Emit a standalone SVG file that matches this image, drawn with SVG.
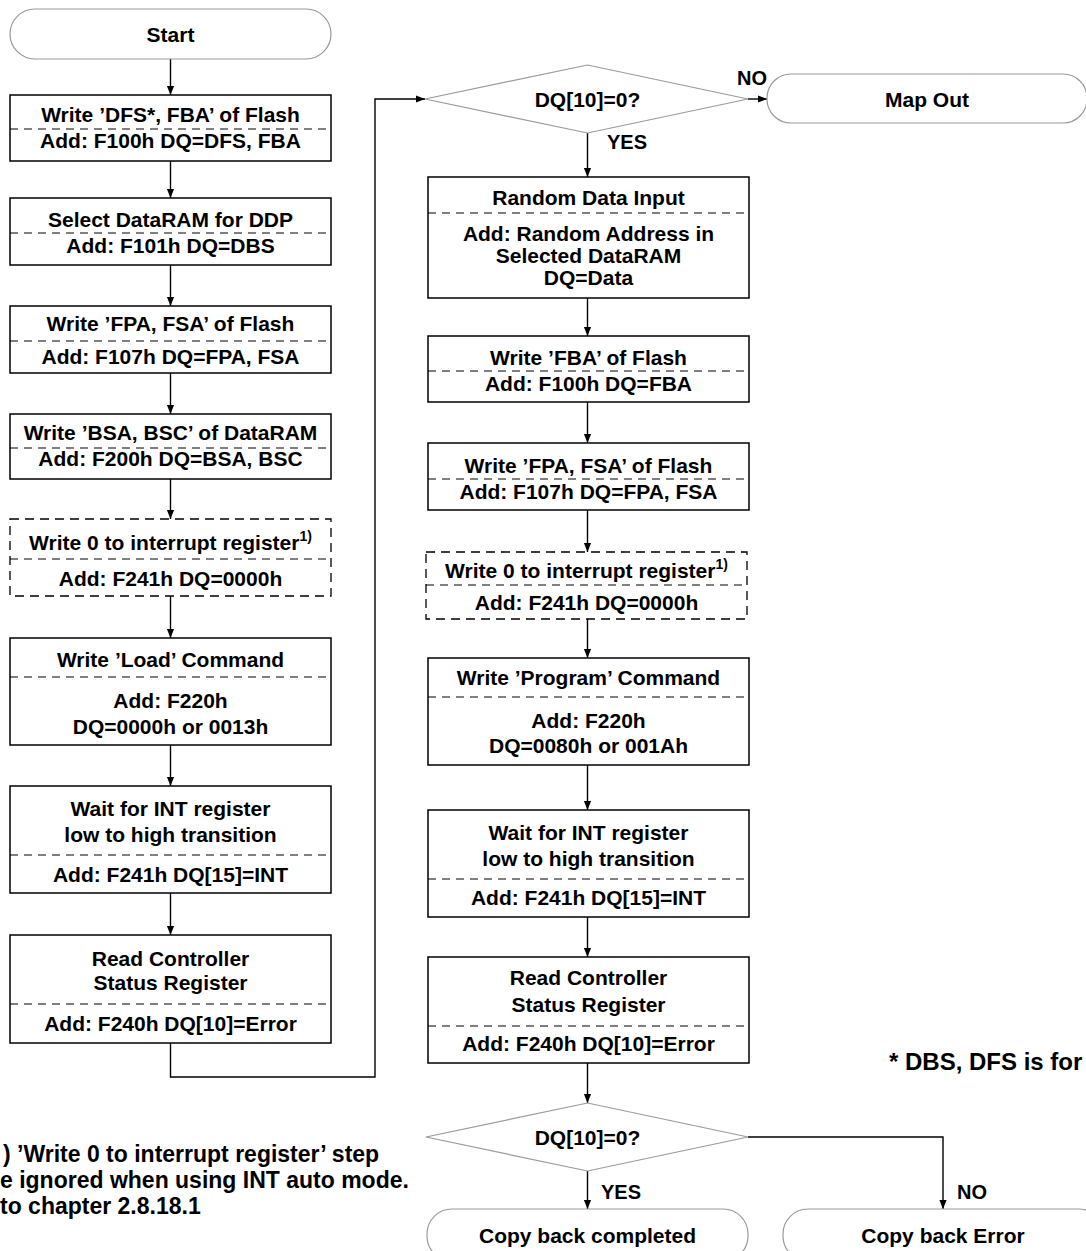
<svg xmlns="http://www.w3.org/2000/svg" width="1086" height="1251" viewBox="0 0 1086 1251">
<style>
text{font-family:"Liberation Sans",Arial,sans-serif;font-weight:bold;fill:#000;}
.t{font-size:21px;text-anchor:middle;}
.lbl{font-size:20px;text-anchor:middle;}
.note{font-size:23px;}
.note2{font-size:24px;}
.box{fill:#fff;stroke:#000;stroke-width:1.5;}
.dbox{fill:#fff;stroke:#000;stroke-width:1.3;stroke-dasharray:9,6;}
.sep{stroke:#000;stroke-width:1;stroke-dasharray:8,6;fill:none;}
.term{fill:#fff;stroke:#9a9a9a;stroke-width:1.2;}
.dia{fill:#fff;stroke:#9a9a9a;stroke-width:1.2;}
.con{fill:none;stroke:#000;stroke-width:1.4;marker-end:url(#ah);}
.sup{font-size:14px;}
</style>
<defs>
<marker id="ah" viewBox="0 0 10 10" refX="10" refY="5" markerWidth="9" markerHeight="9" markerUnits="userSpaceOnUse" orient="auto">
<path d="M0,1 L10,5 L0,9 z" fill="#000"/>
</marker>
</defs>
<rect width="1086" height="1251" fill="#fff"/>

<g id="connectors">
<path class="con" d="M170.5,59 V95"/>
<path class="con" d="M170.5,161 V198"/>
<path class="con" d="M170.5,265 V306"/>
<path class="con" d="M170.5,373 V414"/>
<path class="con" d="M170.5,479 V519"/>
<path class="con" d="M170.5,596 V638"/>
<path class="con" d="M170.5,745 V786"/>
<path class="con" d="M170.5,893 V935"/>
<path class="con" d="M170.5,1043 V1077 H375 V99 H425"/>
<path class="con" d="M748,99 H767"/>
<path class="con" d="M587.5,133 V177"/>
<path class="con" d="M587.5,298 V336"/>
<path class="con" d="M587.5,402 V443"/>
<path class="con" d="M587.5,510 V552"/>
<path class="con" d="M587.5,619 V658"/>
<path class="con" d="M587.5,765 V810"/>
<path class="con" d="M587.5,917 V957"/>
<path class="con" d="M587.5,1063 V1103"/>
<path class="con" d="M587.5,1171 V1209"/>
<path class="con" d="M748,1137 H943 V1209"/>
<text class="lbl" x="752" y="85">NO</text>
<text class="lbl" x="627" y="149">YES</text>
<text class="lbl" x="621" y="1199">YES</text>
<text class="lbl" x="972" y="1199">NO</text>
</g>

<g id="start">
<rect class="term" x="10" y="9" width="321" height="50" rx="25"/>
<text class="t" x="170.5" y="42">Start</text>
</g>

<g id="b1">
<rect class="box" x="10" y="95" width="321" height="66"/>
<line class="sep" x1="10" y1="129" x2="331" y2="129"/>
<text class="t" x="170.5" y="122">Write ’DFS*, FBA’ of Flash</text>
<text class="t" x="170.5" y="147.5">Add: F100h DQ=DFS, FBA</text>
</g>

<g id="b2">
<rect class="box" x="10" y="198" width="321" height="67"/>
<line class="sep" x1="10" y1="233" x2="331" y2="233"/>
<text class="t" x="170.5" y="226.5">Select DataRAM for DDP</text>
<text class="t" x="170.5" y="252.5">Add: F101h DQ=DBS</text>
</g>

<g id="b3">
<rect class="box" x="10" y="306" width="321" height="67"/>
<line class="sep" x1="10" y1="341" x2="331" y2="341"/>
<text class="t" x="170.5" y="330.5">Write ’FPA, FSA’ of Flash</text>
<text class="t" x="170.5" y="363.5">Add: F107h DQ=FPA, FSA</text>
</g>

<g id="b4">
<rect class="box" x="10" y="414" width="321" height="65"/>
<line class="sep" x1="10" y1="448" x2="331" y2="448"/>
<text class="t" x="170.5" y="439.5">Write ’BSA, BSC’ of DataRAM</text>
<text class="t" x="170.5" y="465.5">Add: F200h DQ=BSA, BSC</text>
</g>

<g id="b5">
<rect class="dbox" x="10" y="519" width="321" height="77"/>
<line class="sep" x1="10" y1="559" x2="331" y2="559"/>
<text class="t" x="170.5" y="549.5">Write 0 to interrupt register<tspan class="sup" dy="-9">1)</tspan></text>
<text class="t" x="170.5" y="585.5">Add: F241h DQ=0000h</text>
</g>

<g id="b6">
<rect class="box" x="10" y="638" width="321" height="107"/>
<line class="sep" x1="10" y1="677" x2="331" y2="677"/>
<text class="t" x="170.5" y="666.5">Write ’Load’ Command</text>
<text class="t" x="170.5" y="707.5">Add: F220h</text>
<text class="t" x="170.5" y="733.5">DQ=0000h or 0013h</text>
</g>

<g id="b7">
<rect class="box" x="10" y="786" width="321" height="107"/>
<line class="sep" x1="10" y1="855" x2="331" y2="855"/>
<text class="t" x="170.5" y="815.5">Wait for INT register</text>
<text class="t" x="170.5" y="841.5">low to high transition</text>
<text class="t" x="170.5" y="881.5">Add: F241h DQ[15]=INT</text>
</g>

<g id="b8">
<rect class="box" x="10" y="935" width="321" height="108"/>
<line class="sep" x1="10" y1="1004" x2="331" y2="1004"/>
<text class="t" x="170.5" y="965.5">Read Controller</text>
<text class="t" x="170.5" y="989.5">Status Register</text>
<text class="t" x="170.5" y="1030.5">Add: F240h DQ[10]=Error</text>
</g>

<g id="d1">
<polygon class="dia" points="425,99 587.5,65 748,99 587.5,133"/>
<text class="t" x="587.5" y="107">DQ[10]=0?</text>
</g>

<g id="mapout">
<rect class="term" x="767" y="74" width="320" height="49" rx="24"/>
<text class="t" x="927" y="107">Map Out</text>
</g>

<g id="r1">
<rect class="box" x="428" y="177" width="321" height="121"/>
<line class="sep" x1="428" y1="213" x2="749" y2="213"/>
<text class="t" x="588.5" y="204.5">Random Data Input</text>
<text class="t" x="588.5" y="240.5">Add: Random Address in</text>
<text class="t" x="588.5" y="262.5">Selected DataRAM</text>
<text class="t" x="588.5" y="284.5">DQ=Data</text>
</g>

<g id="r2">
<rect class="box" x="428" y="336" width="321" height="66"/>
<line class="sep" x1="428" y1="371" x2="749" y2="371"/>
<text class="t" x="588.5" y="364.5">Write  ’FBA’ of Flash</text>
<text class="t" x="588.5" y="390.5">Add: F100h DQ=FBA</text>
</g>

<g id="r3">
<rect class="box" x="428" y="443" width="321" height="67"/>
<line class="sep" x1="428" y1="479" x2="749" y2="479"/>
<text class="t" x="588.5" y="472.5">Write ’FPA, FSA’ of Flash</text>
<text class="t" x="588.5" y="498.5">Add: F107h DQ=FPA, FSA</text>
</g>

<g id="r4">
<rect class="dbox" x="426" y="552" width="321" height="67"/>
<line class="sep" x1="426" y1="585" x2="747" y2="585"/>
<text class="t" x="586.5" y="577.5">Write 0 to interrupt register<tspan class="sup" dy="-9">1)</tspan></text>
<text class="t" x="586.5" y="609.5">Add: F241h DQ=0000h</text>
</g>

<g id="r5">
<rect class="box" x="428" y="658" width="321" height="107"/>
<line class="sep" x1="428" y1="697" x2="749" y2="697"/>
<text class="t" x="588.5" y="684.5">Write ’Program’ Command</text>
<text class="t" x="588.5" y="727.5">Add: F220h</text>
<text class="t" x="588.5" y="752.5">DQ=0080h or 001Ah</text>
</g>

<g id="r6">
<rect class="box" x="428" y="810" width="321" height="107"/>
<line class="sep" x1="428" y1="879" x2="749" y2="879"/>
<text class="t" x="588.5" y="839.5">Wait for INT register</text>
<text class="t" x="588.5" y="865.5">low to high transition</text>
<text class="t" x="588.5" y="904.5">Add: F241h DQ[15]=INT</text>
</g>

<g id="r7">
<rect class="box" x="428" y="957" width="321" height="106"/>
<line class="sep" x1="428" y1="1026" x2="749" y2="1026"/>
<text class="t" x="588.5" y="984.5">Read Controller</text>
<text class="t" x="588.5" y="1011.5">Status Register</text>
<text class="t" x="588.5" y="1050.5">Add: F240h DQ[10]=Error</text>
</g>

<g id="d2">
<polygon class="dia" points="426,1137 587.5,1103 748,1137 587.5,1171"/>
<text class="t" x="587.5" y="1144.5">DQ[10]=0?</text>
</g>

<g id="done">
<rect class="term" x="427" y="1209" width="321" height="52" rx="25"/>
<text class="t" x="587.5" y="1242.5">Copy back completed</text>
</g>

<g id="err">
<rect class="term" x="783" y="1209" width="320" height="52" rx="25"/>
<text class="t" x="943" y="1242.5">Copy back Error</text>
</g>

<g id="notes">
<text class="note" x="3" y="1162">) ’Write 0 to interrupt register’ step</text>
<text class="note" x="0" y="1188">e ignored when using INT auto mode.</text>
<text class="note" x="0" y="1214">to chapter 2.8.18.1</text>
<text class="note2" x="889" y="1070">* DBS, DFS is for</text>
</g>
</svg>
